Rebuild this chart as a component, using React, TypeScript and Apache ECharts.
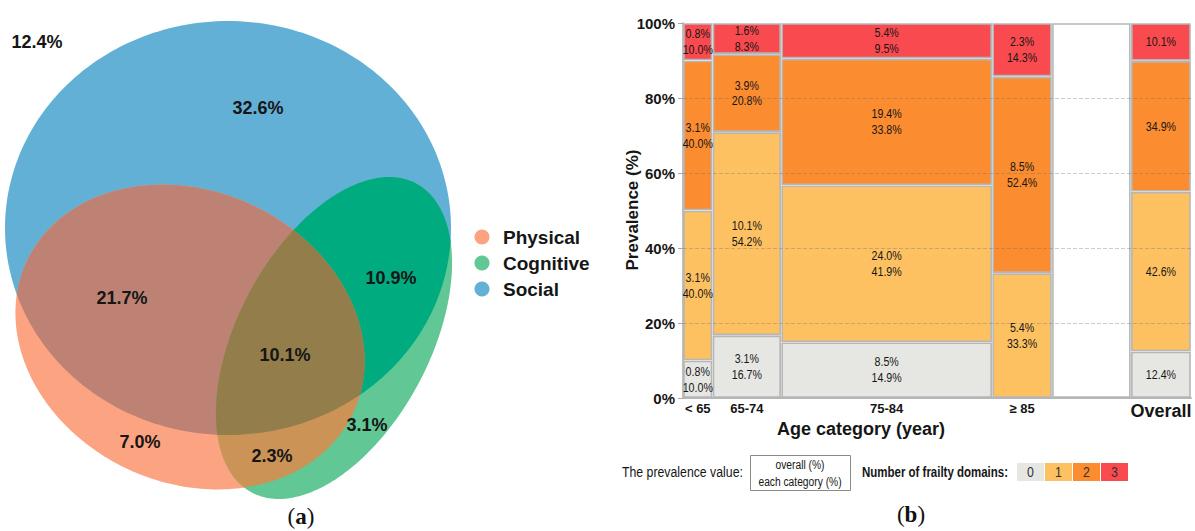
import React, { useEffect, useRef } from "react";
import * as echarts from "echarts";

// ---------------- (b) mosaic data ----------------
const ageCategories = ["< 65", "65-74", "75-84", "≥ 85"];
const categoryShare = [8.0, 18.6, 57.2, 16.2]; // share of the whole sample (%)
const domainLevels = ["0", "1", "2", "3"];
// overall prevalence (%) by category and number of frailty domains (0..3)
const overallPct = [
  [0.8, 3.1, 3.1, 0.8],
  [3.1, 10.1, 3.9, 1.6],
  [8.5, 24.0, 19.4, 5.4],
  [0, 5.4, 8.5, 2.3],
];
// prevalence within each category (%)
const categoryPct = [
  [10.0, 40.0, 40.0, 10.0],
  [16.7, 54.2, 20.8, 8.3],
  [14.9, 41.9, 33.8, 9.5],
  [0, 33.3, 52.4, 14.3],
];
const overallName = "Overall";
const overallTotals = [12.4, 42.6, 34.9, 10.1];
const yTickValues = [20, 40, 60, 80];

// ---------------- (a) Venn data ----------------
const domainNames = ["Physical", "Cognitive", "Social"];
const vennRegionNames = [
  "None",
  "Social only",
  "Physical & Social",
  "All three",
  "Cognitive & Social",
  "Physical only",
  "Physical & Cognitive",
  "Cognitive only",
];
const vennRegionValues = [12.4, 32.6, 21.7, 10.1, 10.9, 7.0, 2.3, 3.1];

// ---------------- styles / layout ----------------
const SANS = "'Liberation Sans', Arial, sans-serif";
const NARROW = "'Liberation Sans', Arial, sans-serif";
const NARROW_SCALE = 0.82;
const SERIF = "'Liberation Serif', 'DejaVu Serif', serif";
const domainColors = ["#e6e6e3", "#fdc162", "#fb8c2f", "#f94a50"];
const borderGray = "#b6b6b6";
const TEXT = "#161616";

const GAP = 21.4;
const OVERALL_W = 16.3;
const X_MAX = 100 + GAP + OVERALL_W;

type Pt = [number, number];

function ellipsePoly(cx: number, cy: number, a: number, b: number, rotDeg: number, n = 240): Pt[] {
  const th = (rotDeg * Math.PI) / 180;
  const c = Math.cos(th);
  const s = Math.sin(th);
  const pts: Pt[] = [];
  for (let i = 0; i < n; i++) {
    const t = (i / n) * Math.PI * 2;
    const u = a * Math.cos(t);
    const v = b * Math.sin(t);
    pts.push([cx + u * c - v * s, cy + u * s + v * c]);
  }
  return pts;
}

function signedArea(p: Pt[]) {
  let s = 0;
  for (let i = 0; i < p.length; i++) {
    const q = p[(i + 1) % p.length];
    s += p[i][0] * q[1] - q[0] * p[i][1];
  }
  return s / 2;
}

function clipPoly(subject: Pt[], clip: Pt[]): Pt[] {
  let output = subject;
  const sgn = signedArea(clip) > 0 ? 1 : -1;
  for (let i = 0; i < clip.length; i++) {
    const a = clip[i];
    const b = clip[(i + 1) % clip.length];
    const input = output;
    output = [];
    if (!input.length) break;
    const ex = b[0] - a[0];
    const ey = b[1] - a[1];
    const side = (p: Pt) => sgn * (ex * (p[1] - a[1]) - ey * (p[0] - a[0]));
    const inter = (p: Pt, q: Pt): Pt => {
      const sp = side(p);
      const sq = side(q);
      const t = sp / (sp - sq);
      return [p[0] + t * (q[0] - p[0]), p[1] + t * (q[1] - p[1])];
    };
    for (let j = 0; j < input.length; j++) {
      const cur = input[j];
      const prev = input[(j + input.length - 1) % input.length];
      const ci = side(cur) >= 0;
      const pi = side(prev) >= 0;
      if (ci) {
        if (!pi) output.push(inter(prev, cur));
        output.push(cur);
      } else if (pi) {
        output.push(inter(prev, cur));
      }
    }
  }
  return output;
}

function buildCells() {
  const cells: { x0: number; x1: number; y0: number; y1: number; level: number; label: string }[] = [];
  let xc = 0;
  ageCategories.forEach((_, i) => {
    const w = categoryShare[i];
    const total = categoryPct[i].reduce((s, v) => s + v, 0);
    let yc = 0;
    categoryPct[i].forEach((p, lv) => {
      if (p > 0) {
        cells.push({
          x0: xc,
          x1: xc + w,
          y0: (yc / total) * 100,
          y1: ((yc + p) / total) * 100,
          level: lv,
          label: `${overallPct[i][lv].toFixed(1)}%\n${p.toFixed(1)}%`,
        });
      }
      yc += p;
    });
    xc += w;
  });
  cells.push({ x0: 100, x1: 100 + GAP, y0: 0, y1: 100, level: -1, label: "" });
  const tot = overallTotals.reduce((s, v) => s + v, 0);
  let yo = 0;
  overallTotals.forEach((p, lv) => {
    cells.push({
      x0: 100 + GAP,
      x1: X_MAX,
      y0: (yo / tot) * 100,
      y1: ((yo + p) / tot) * 100,
      level: lv,
      label: `${p.toFixed(1)}%`,
    });
    yo += p;
  });
  return cells;
}

function categoryCenters() {
  const centers: number[] = [];
  let xc = 0;
  categoryShare.forEach((w) => {
    centers.push(xc + w / 2);
    xc += w;
  });
  centers.push(100 + GAP + OVERALL_W / 2);
  return centers;
}

export default function App() {
  const ref = useRef<HTMLDivElement>(null);

  useEffect(() => {
    if (!ref.current) return;
    const chart = echarts.init(ref.current, undefined, { renderer: "svg" });

    const cells = buildCells();
    const centers = categoryCenters();
    const xNames = [...ageCategories, overallName];

    // ---- Venn geometry ----
    const P = ellipsePoly(190, 337, 180, 146, 24.6);
    const C = ellipsePoly(334, 338, 175, 96, -62);
    const S = ellipsePoly(228, 228, 223, 207, 0);
    const PS = clipPoly(P, S);
    const CS = clipPoly(C, S);
    const PC = clipPoly(P, C);
    const PCS = clipPoly(PS, C);
    const vennFill = {
      S: "#62b0d5",
      P: "#fca382",
      C: "#60c795",
      PS: "#bd8274",
      CS: "#00ab80",
      PC: "#cc9357",
      PCS: "#927d4b",
    };
    const vennLabelPos: Pt[] = [
      [37, 42],
      [258, 108],
      [122, 298],
      [285, 355],
      [391, 278],
      [140, 442],
      [272, 456],
      [367, 425],
    ];
    const legendColors = [vennFill.P, vennFill.C, vennFill.S];

    const graphics: any[] = [
      { type: "polygon", shape: { points: S }, style: { fill: vennFill.S } },
      { type: "polygon", shape: { points: P }, style: { fill: vennFill.P } },
      { type: "polygon", shape: { points: C }, style: { fill: vennFill.C } },
      { type: "polygon", shape: { points: PS }, style: { fill: vennFill.PS } },
      { type: "polygon", shape: { points: CS }, style: { fill: vennFill.CS } },
      { type: "polygon", shape: { points: PC }, style: { fill: vennFill.PC } },
      { type: "polygon", shape: { points: PCS }, style: { fill: vennFill.PCS } },
    ];
    vennRegionValues.forEach((v, i) => {
      graphics.push({
        type: "text",
        x: vennLabelPos[i][0],
        y: vennLabelPos[i][1],
        z: 10,
        style: {
          text: `${v.toFixed(1)}%`,
          fill: TEXT,
          font: `bold 18px ${SANS}`,
          align: "center",
          verticalAlign: "middle",
        },
      });
    });
    domainNames.forEach((name, i) => {
      const y = 237 + i * 26;
      graphics.push({
        type: "circle",
        shape: { cx: 482, cy: y, r: 7.5 },
        style: { fill: legendColors[i] },
      });
      graphics.push({
        type: "text",
        x: 503,
        y,
        style: {
          text: name,
          fill: TEXT,
          font: `bold 19px ${SANS}`,
          align: "left",
          verticalAlign: "middle",
        },
      });
    });

    // panel captions
    const caption = (letter: string, x: number, y: number) => ({
      type: "text",
      x,
      y,
      style: {
        text: `{n|(}{b|${letter}}{n|)}`,
        align: "center",
        verticalAlign: "middle",
        rich: {
          n: { fontFamily: SERIF, fontSize: 23, fill: "#111" },
          b: { fontFamily: SERIF, fontSize: 23, fontWeight: "bold", fill: "#111" },
        },
      },
    });
    graphics.push(caption("a", 301, 516));
    graphics.push(caption("b", 911, 514));

    // axis titles for (b)
    graphics.push({
      type: "text",
      x: 632,
      y: 210,
      rotation: Math.PI / 2,
      style: {
        text: "Prevalence (%)",
        fill: TEXT,
        font: `bold 17px ${SANS}`,
        align: "center",
        verticalAlign: "middle",
      },
    });
    graphics.push({
      type: "text",
      x: 861,
      y: 429,
      style: {
        text: "Age category (year)",
        fill: TEXT,
        font: `bold 18px ${SANS}`,
        align: "center",
        verticalAlign: "middle",
      },
    });

    // legend of (b)
    graphics.push({
      type: "text",
      x: 622,
      y: 472,
      scaleX: NARROW_SCALE,
      style: {
        text: "The prevalence value:",
        fill: TEXT,
        font: `15px ${NARROW}`,
        align: "left",
        verticalAlign: "middle",
      },
    });
    graphics.push({
      type: "rect",
      shape: { x: 750.5, y: 455.5, width: 100, height: 35 },
      style: { fill: "#fff", stroke: "#8a8a8a", lineWidth: 1 },
    });
    graphics.push({
      type: "text",
      x: 800,
      y: 473,
      scaleX: NARROW_SCALE,
      style: {
        text: "overall (%)\neach category (%)",
        fill: TEXT,
        font: `12.5px ${NARROW}`,
        lineHeight: 17,
        align: "center",
        verticalAlign: "middle",
      },
    });
    graphics.push({
      type: "text",
      x: 862,
      y: 472,
      scaleX: NARROW_SCALE,
      style: {
        text: "Number of frailty domains:",
        fill: TEXT,
        font: `bold 14px ${NARROW}`,
        align: "left",
        verticalAlign: "middle",
      },
    });
    domainLevels.forEach((lv, i) => {
      const x = 1017 + i * 28;
      graphics.push({
        type: "rect",
        shape: { x, y: 463, width: 27, height: 18 },
        style: { fill: domainColors[i] },
      });
      graphics.push({
        type: "text",
        x: x + 13.5,
        y: 472,
        scaleX: NARROW_SCALE,
        style: {
          text: lv,
          fill: "#333",
          font: `15px ${NARROW}`,
          align: "center",
          verticalAlign: "middle",
        },
      });
    });

    const option: any = {
      animation: false,
      backgroundColor: "#ffffff",
      grid: { left: 683, top: 23, width: 508, height: 375, containLabel: false, outerBoundsMode: "none" },
      xAxis: {
        type: "value",
        min: 0,
        max: X_MAX,
        splitLine: { show: false },
        axisTick: { show: false },
        axisLine: { show: true, lineStyle: { color: borderGray, width: 2 } },
        axisLabel: {
          customValues: centers,
          margin: 4,
          color: TEXT,
          fontFamily: SANS,
          fontWeight: "bold",
          fontSize: 13,
          formatter: (v: number) => {
            let best = 0;
            centers.forEach((c, i) => {
              if (Math.abs(c - v) < Math.abs(centers[best] - v)) best = i;
            });
            return best === centers.length - 1 ? `{o|${xNames[best]}}` : xNames[best];
          },
          rich: {
            o: { fontFamily: SANS, fontWeight: "bold", fontSize: 18, color: TEXT },
          },
        },
      },
      yAxis: {
        type: "value",
        min: 0,
        max: 100,
        interval: 20,
        axisLine: { show: true, lineStyle: { color: "#a8a8a8", width: 1.5 } },
        axisTick: { show: true, length: 5, lineStyle: { color: "#a8a8a8" } },
        splitLine: { show: false },
        axisLabel: {
          formatter: "{value}%",
          margin: 8,
          color: TEXT,
          fontFamily: SANS,
          fontWeight: "bold",
          fontSize: 15,
        },
      },
      graphic: { elements: graphics },
      series: [
        {
          type: "custom",
          z: 2,
          data: cells.map((c) => [c.x0, c.x1, c.y0, c.y1, c.level]),
          renderItem: (params: any, api: any) => {
            const cell = cells[params.dataIndex];
            const p0 = api.coord([cell.x0, cell.y0]);
            const p1 = api.coord([cell.x1, cell.y1]);
            const x = p0[0] + 1;
            const y = p1[1] + 1;
            const w = p1[0] - p0[0] - 2;
            const h = p0[1] - p1[1] - 2;
            const children: any[] = [
              {
                type: "rect",
                shape: { x, y, width: w, height: h },
                style: {
                  fill: cell.level < 0 ? "#ffffff" : domainColors[cell.level],
                  stroke: borderGray,
                  lineWidth: 1.6,
                },
              },
            ];
            if (cell.label) {
              children.push({
                type: "text",
                x: x + w / 2,
                y: y + h / 2,
                scaleX: NARROW_SCALE,
                z2: 5,
                style: {
                  text: cell.label,
                  fill: TEXT,
                  font: `13px ${NARROW}`,
                  lineHeight: 16,
                  align: "center",
                  verticalAlign: "middle",
                },
              });
            }
            return { type: "group", children };
          },
          markLine: {
            silent: true,
            symbol: ["none", "none"],
            label: { show: false },
            lineStyle: { type: "dashed", color: "rgba(110,110,110,0.35)", width: 1 },
            data: yTickValues.map((v) => ({ yAxis: v })),
          },
        },
      ],
    };

    chart.setOption(option);
    return () => chart.dispose();
  }, []);

  return (
    <div
      ref={ref}
      style={{ position: "absolute", left: 0, top: 0, width: 1195, height: 531, background: "#fff" }}
    />
  );
}
